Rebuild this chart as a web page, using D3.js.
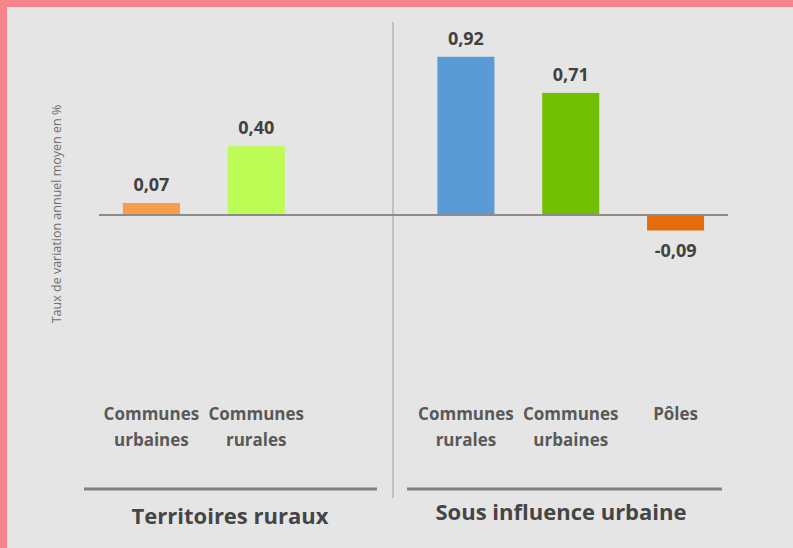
<!DOCTYPE html>
<html>
<head>
<meta charset="utf-8">
<script src="https://cdn.jsdelivr.net/npm/d3@7"></script>
<style>
  html, body { margin: 0; padding: 0; background: #e5e5e5; }
  svg { display: block; font-family: 'Open Sans', sans-serif; }
</style>
</head>
<body>
<svg id="chart"></svg>
<script>
// categories, in drawing order ('gap' is the empty slot between the two groups)
const keys = ['r-urb', 'r-rur', 'gap', 'u-rur', 'u-urb', 'u-pol'];
const labels = [['Communes', 'urbaines'], ['Communes', 'rurales'], [], ['Communes', 'rurales'], ['Communes', 'urbaines'], ['Pôles']];
const values = [0.07, 0.40, null, 0.92, 0.71, -0.09];
const valueText = ['0,07', '0,40', '', '0,92', '0,71', '-0,09'];
const colors = ['#f89d4a', '#bdfb55', 'none', '#5b9bd5', '#72bf04', '#e46c0a'];
const groups = ['Territoires ruraux', 'Sous influence urbaine'];
const yTitle = 'Taux de variation annuel moyen en %';

const width = 793, height = 548;

const svg = d3.select('#chart')
  .attr('width', width)
  .attr('height', height);

// background + pink frame on top/left
svg.append('rect').attr('width', width).attr('height', height).attr('fill', '#e5e5e5');
svg.append('rect').attr('width', width).attr('height', 7).attr('fill', '#f7868c');
svg.append('rect').attr('width', 7).attr('height', height).attr('fill', '#f7868c');

const x = d3.scaleBand()
  .domain(keys)
  .range([99, 728])
  .paddingInner(0.456)
  .paddingOuter(0.228);

const y = d3.scaleLinear()
  .domain([0, 1])
  .range([215, 43]);

const data = keys.map((k, i) => ({
  key: k, label: labels[i], value: values[i], text: valueText[i], color: colors[i]
})).filter(d => d.value !== null);

// separator between groups
const sepX = 393;
svg.append('line')
  .attr('x1', sepX).attr('x2', sepX)
  .attr('y1', 22).attr('y2', 498)
  .attr('stroke', '#b4b4b4')
  .attr('stroke-width', 1.5);

// bars
svg.selectAll('.bar')
  .data(data)
  .enter().append('rect')
  .attr('class', 'bar')
  .attr('x', d => x(d.key))
  .attr('width', x.bandwidth())
  .attr('y', d => y(Math.max(0, d.value)))
  .attr('height', d => Math.abs(y(d.value) - y(0)))
  .attr('fill', d => d.color);

// zero line
svg.append('line')
  .attr('x1', x.range()[0]).attr('x2', x.range()[1])
  .attr('y1', y(0)).attr('y2', y(0))
  .attr('stroke', '#8c8c8c')
  .attr('stroke-width', 2);

// value labels
svg.selectAll('.val')
  .data(data)
  .enter().append('text')
  .attr('class', 'val')
  .attr('x', d => x(d.key) + x.bandwidth() / 2)
  .attr('y', d => d.value >= 0 ? y(d.value) - 12 : y(d.value) + 27)
  .attr('text-anchor', 'middle')
  .style('font-size', '18px')
  .style('font-weight', 'bold')
  .attr('fill', '#404040')
  .text(d => d.text);

// category labels
const cat = svg.selectAll('.cat')
  .data(data)
  .enter().append('text')
  .attr('class', 'cat')
  .attr('text-anchor', 'middle')
  .style('font-size', '17px')
  .style('font-weight', 'bold')
  .attr('fill', '#595959');

cat.selectAll('tspan')
  .data(d => d.label.map(t => ({ t: t, cx: x(d.key) + x.bandwidth() / 2 })))
  .enter().append('tspan')
  .attr('x', d => d.cx)
  .attr('y', (d, i) => 420 + i * 26)
  .text(d => d.t);

// group underlines + titles
const groupLines = [[84, 377], [407, 722]];
const groupTitleX = [230, 561];
const groupTitleY = [524, 520];

groups.forEach((g, i) => {
  svg.append('line')
    .attr('x1', groupLines[i][0]).attr('x2', groupLines[i][1])
    .attr('y1', 489).attr('y2', 489)
    .attr('stroke', '#808080')
    .attr('stroke-width', 3);

  svg.append('text')
    .attr('x', groupTitleX[i])
    .attr('y', groupTitleY[i])
    .attr('text-anchor', 'middle')
    .style('font-size', '22px')
    .style('font-weight', 'bold')
    .attr('fill', '#454545')
    .text(g);
});

// y axis title
svg.append('text')
  .attr('transform', 'translate(61,214) rotate(-90)')
  .attr('text-anchor', 'middle')
  .style('font-size', '12.5px')
  .attr('fill', '#6e6e6e')
  .text(yTitle);
</script>
</body>
</html>
